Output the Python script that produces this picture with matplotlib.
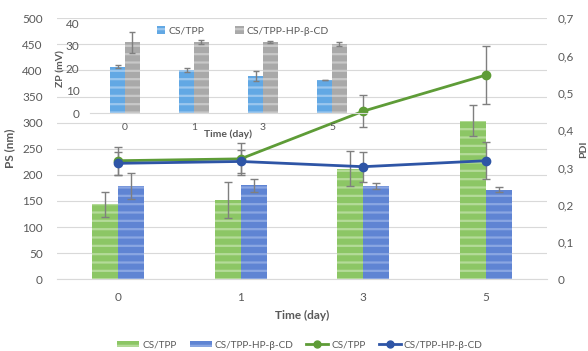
import matplotlib
matplotlib.use("Agg")
import matplotlib.pyplot as plt
import numpy as np
from matplotlib.patches import Patch
from matplotlib.lines import Line2D

days = ["0", "1", "3", "5"]

# particle size (nm), bars
ps_tpp = [144, 152, 212, 304]
ps_tpp_err = [24, 34, 33, 29]
ps_cd = [179, 180, 179, 172]
ps_cd_err = [25, 12, 6, 5]

# PDI, lines
pdi_tpp = [0.318, 0.323, 0.451, 0.548]
pdi_tpp_err = [0.038, 0.042, 0.042, 0.078]
pdi_cd = [0.311, 0.316, 0.302, 0.318]
pdi_cd_err = [0.030, 0.032, 0.040, 0.049]

# zeta potential (mV), inset
zp_tpp = [20.7, 19.3, 16.7, 14.8]
zp_tpp_err = [0.6, 0.8, 2.3, 0.2]
zp_cd = [31.6, 31.6, 31.6, 30.7]
zp_cd_err = [4.7, 0.8, 0.5, 0.8]

GREY = "#595959"
GRID = "#d9d9d9"
ERR = "#7f7f7f"

plt.rcParams["font.family"] = ["Lato", "DejaVu Sans"]
plt.rcParams["hatch.linewidth"] = 1.6

fig = plt.figure(figsize=(5.88, 3.51), dpi=100)
ax = fig.add_axes([0.0961, 0.2043, 0.835, 0.7436])

x = np.arange(len(days))
w = 0.211

ax.bar(x - w/2, ps_tpp, w, color="#8cc665", edgecolor="#b4db98", hatch="--", linewidth=0, zorder=2)
ax.bar(x + w/2, ps_cd, w, color="#5f84d3", edgecolor="#8aa6e2", hatch="--", linewidth=0, zorder=2)
ax.errorbar(x - w/2, ps_tpp, yerr=ps_tpp_err, fmt="none", ecolor=ERR, elinewidth=1, capsize=3, zorder=3)
ax.errorbar(x + w/2, ps_cd, yerr=ps_cd_err, fmt="none", ecolor=ERR, elinewidth=1, capsize=3, zorder=3)

ax.set_xlim(-0.5, 3.5)
ax.set_ylim(0, 500)
ax.set_yticks(np.arange(0, 501, 50))
ax.set_xticks(x)
ax.set_xticklabels(days)
ax.grid(axis="y", color=GRID, linewidth=0.8, zorder=0)
ax.set_axisbelow(True)
for s in ["top", "left", "right"]:
    ax.spines[s].set_visible(False)
ax.spines["bottom"].set_color(GRID)
ax.tick_params(length=0, colors=GREY, labelsize=8.5)
ax.tick_params(axis="x", pad=9)
ax.tick_params(axis="y", pad=10)
ax.set_xlabel("Time (day)", fontsize=8.5, fontweight="bold", color=GREY, labelpad=5)
ax.set_ylabel("PS (nm)", fontsize=8.5, fontweight="bold", color=GREY, labelpad=5)

ax2 = ax.twinx()
ax2.errorbar(x, pdi_tpp, yerr=pdi_tpp_err, fmt="none", ecolor=ERR, elinewidth=1, capsize=3, zorder=3)
ax2.errorbar(x, pdi_cd, yerr=pdi_cd_err, fmt="none", ecolor=ERR, elinewidth=1, capsize=3, zorder=3)
ax2.plot(x, pdi_tpp, color="#5e9c37", lw=2, marker="o", ms=6, zorder=4)
ax2.plot(x, pdi_cd, color="#2e55a6", lw=2, marker="o", ms=6, zorder=4)
ax2.set_ylim(0, 0.7)
ax2.set_yticks(np.arange(0, 0.71, 0.1))
ax2.set_yticklabels(["0"] + ["0,%d" % i for i in range(1, 8)])
for s in ["top", "left", "right", "bottom"]:
    ax2.spines[s].set_visible(False)
ax2.tick_params(length=0, colors=GREY, labelsize=8.5, pad=7)
ax2.set_ylabel("PDI", fontsize=7.5, fontweight="bold", color=GREY, labelpad=4)

# inset: zeta potential
ins = fig.add_axes([0.1539, 0.6772, 0.4694, 0.2564])
ins.patch.set_alpha(0)
wi = 0.217
ins.bar(x - wi/2, zp_tpp, wi, color="#62a8e4", edgecolor="#9ac6ee", hatch="--", linewidth=0, zorder=2, label="CS/TPP")
ins.bar(x + wi/2, zp_cd, wi, color="#a9a9a9", edgecolor="#c8c8c8", hatch="--", linewidth=0, zorder=2, label="CS/TPP-HP-β-CD")
ins.errorbar(x - wi/2, zp_tpp, yerr=zp_tpp_err, fmt="none", ecolor=ERR, elinewidth=1, capsize=2.5, zorder=3)
ins.errorbar(x + wi/2, zp_cd, yerr=zp_cd_err, fmt="none", ecolor=ERR, elinewidth=1, capsize=2.5, zorder=3)
ins.set_xlim(-0.5, 3.5)
ins.set_ylim(0, 40)
ins.set_yticks([0, 10, 20, 30, 40])
ins.set_xticks(x)
ins.set_xticklabels(days)
for s in ["top", "left", "right"]:
    ins.spines[s].set_visible(False)
ins.spines["bottom"].set_color(GRID)
ins.tick_params(length=0, colors=GREY, labelsize=8.5)
ins.tick_params(axis="x", pad=7, labelsize=7.5)
ins.tick_params(axis="y", pad=8)
ins.set_xlabel("Time (day)", fontsize=7.5, fontweight="bold", color=GREY, labelpad=-2)
ins.set_ylabel("ZP (mV)", fontsize=7.5, fontweight="bold", color=GREY, labelpad=0)
leg_i = ins.legend(loc="upper center", bbox_to_anchor=(0.552, 1.07), ncol=2, frameon=False,
                   fontsize=7.5, handlelength=0.8, handleheight=0.8, columnspacing=3.0, handletextpad=0.3)
for t in leg_i.get_texts():
    t.set_color(GREY)

handles = [
    Patch(facecolor="#8cc665", edgecolor="#b4db98", hatch="--", linewidth=0),
    Patch(facecolor="#5f84d3", edgecolor="#8aa6e2", hatch="--", linewidth=0),
    Line2D([0], [0], color="#5e9c37", lw=2, marker="o", ms=5),
    Line2D([0], [0], color="#2e55a6", lw=2, marker="o", ms=5),
]
labels = ["CS/TPP", "CS/TPP-HP-β-CD", "CS/TPP", "CS/TPP-HP-β-CD"]
leg = fig.legend(handles, labels, loc="center", bbox_to_anchor=(0.51, 0.017), ncol=4, frameon=False,
                 fontsize=7.2, handlelength=2.2, handleheight=0.6, columnspacing=1.3, handletextpad=0.3)
for t in leg.get_texts():
    t.set_color(GREY)

fig.savefig("out.png", dpi=100)
